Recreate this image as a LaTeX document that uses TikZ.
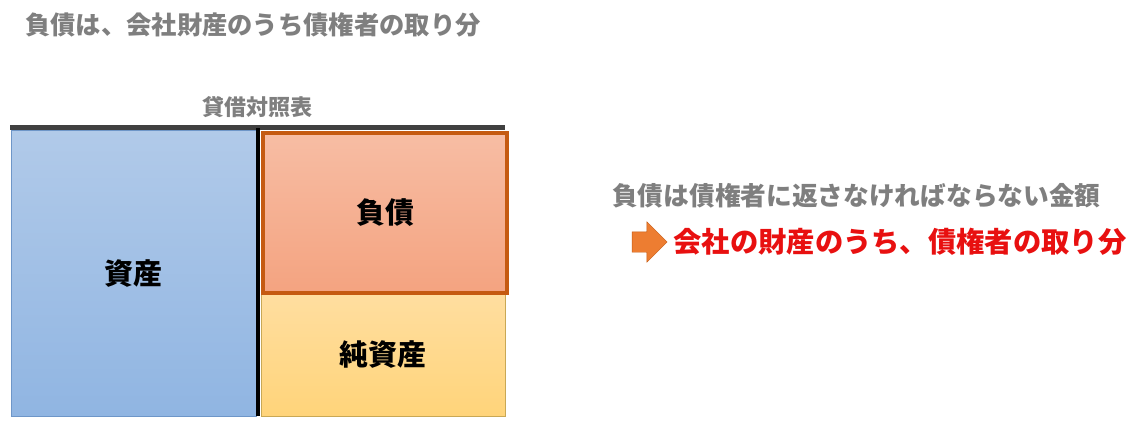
\documentclass[tikz,border=0pt]{standalone}
\usepackage{fontspec}
\newfontfamily\jp{Noto Sans CJK JP}
\usetikzlibrary{shapes.arrows}
\definecolor{grayText}{HTML}{7F7F7F}
\definecolor{barGray}{HTML}{404040}
\definecolor{assetTop}{HTML}{B1CAE9}
\definecolor{assetBot}{HTML}{90B5E2}
\definecolor{assetLine}{HTML}{6E96C8}
\definecolor{debtTop}{HTML}{F7BDA4}
\definecolor{debtBot}{HTML}{F4A380}
\definecolor{debtLine}{HTML}{C55A11}
\definecolor{netTop}{HTML}{FFDEA0}
\definecolor{netBot}{HTML}{FFD47A}
\definecolor{netLine}{HTML}{C9A855}
\definecolor{arrowFill}{HTML}{ED7D31}
\definecolor{redText}{HTML}{E81010}
\begin{document}
\begin{tikzpicture}[x=1pt,y=-1pt,
    note/.style={font=\jp\bfseries\fontsize{25.3}{30}\selectfont, text=grayText, inner sep=0pt},
    block/.style={font=\jp\bfseries\fontsize{29}{34}\selectfont, inner sep=0pt, anchor=north west},
  ]
  \useasboundingbox (0,0) rectangle (1139,434);
  % headings
  \node[note, anchor=west] (title) at (25,25) {負債は、会社財産のうち債権者の取り分};
  \node[note, font=\jp\bfseries\fontsize{22}{26}\selectfont] (sheet) at (257,107) {貸借対照表};
  % balance sheet
  \draw[barGray, line width=5pt] (10,127.5) -- (505,127.5);
  \node[block, draw=assetLine, top color=assetTop, bottom color=assetBot,
    minimum width=245pt, minimum height=286pt] (assets) at (11,130) {資産};
  \node[block, draw=netLine, top color=netTop, bottom color=netBot,
    minimum width=244pt, minimum height=123pt] (net) at (261,293) {純資産};
  \node[block, draw=debtLine, line width=4pt, top color=debtTop, bottom color=debtBot,
    minimum width=244pt, minimum height=160pt] (debt) at (261,131) {負債};
  \draw[black, line width=3.5pt] (258,128) -- (258,416);
  % explanation
  \node[note, anchor=west, font=\jp\bfseries\fontsize{25.7}{30}\selectfont] (repay) at (612,196) {負債は債権者に返さなければならない金額};
  \node[single arrow, draw=debtLine, line width=0.4pt, fill=arrowFill, inner xsep=0pt, inner ysep=10pt,
    minimum height=35pt, single arrow head extend=10pt] (arrow) at (644.5,242) {};
  \node[note, anchor=west, text=redText, font=\jp\bfseries\fontsize{28.3}{34}\selectfont,
    right=6pt] (share) at (arrow.east) {会社の財産のうち、債権者の取り分};
\end{tikzpicture}
\end{document}
